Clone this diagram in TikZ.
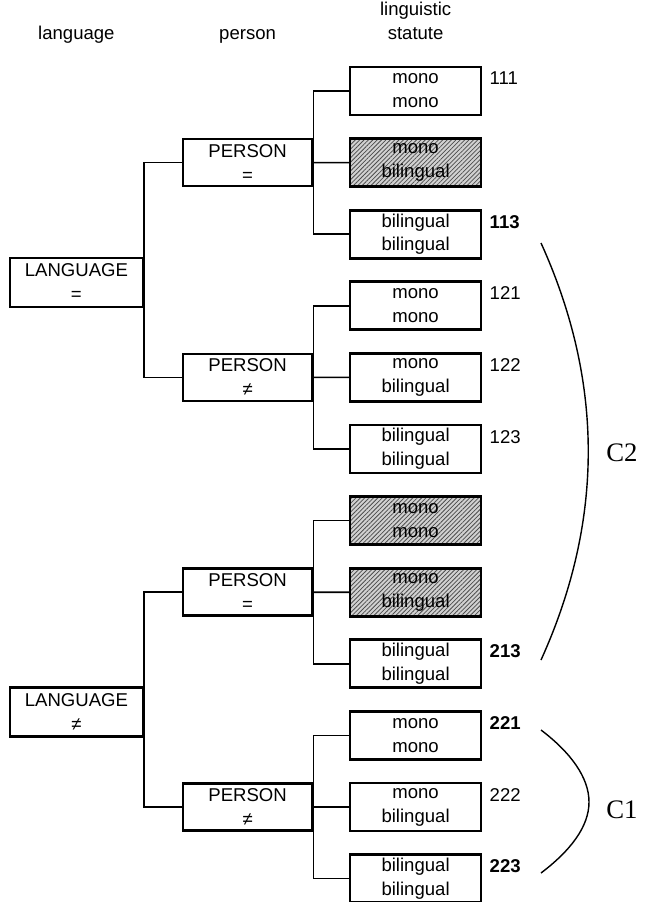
\documentclass[tikz,border=0pt]{standalone}
\usepackage{fontspec}
\setmainfont{Liberation Sans}
\newfontfamily\bracefont{Liberation Serif}
\usetikzlibrary{positioning,patterns.meta}

\begin{document}
\begin{tikzpicture}[font={\fontsize{13.2}{17}\selectfont},
  box/.style={draw, line width=1.9pt, inner sep=0pt, align=center},
  lang/.style={box, minimum width=3.325cm, minimum height=1.225cm},
  pers/.style={box, minimum width=3.225cm, minimum height=1.175cm},
  leaf/.style={box, minimum width=3.275cm, minimum height=1.2cm},
  plain/.style={},
  hatched/.style={preaction={fill=black!18}, pattern={Lines[angle=45,distance=2.2pt,line width=0.55pt]}, pattern color=black!70},
  conn/.style={line width=1.2pt},
  num/.style={anchor=base west, inner sep=0pt}]
\useasboundingbox (0,0) rectangle (16.175,-22.55);
\node[anchor=base] (hlang) at (1.91,-1) {language};
\node[anchor=base] (hpers) at (6.19,-1) {person};
\node[align=center] (hstat) at (10.39,-0.53) {linguistic\\statute};
\node[lang] (g1) at (1.91,-7.06) {LANGUAGE\\=};
\node[lang] (g2) at (1.91,-17.8) {LANGUAGE\\≠};
\foreach \n/\y/\s in {11/-4.065/=, 12/-9.435/≠, 21/-14.805/=, 22/-20.175/≠}
  \node[pers] (p\n) at (6.19,\y) {PERSON\\\s};
\foreach \n/\k/\st/\txt in {111/0/plain/mono\\mono, 112/1/hatched/mono\\bilingual, 113/2/plain/bilingual\\bilingual,
    121/3/plain/mono\\mono, 122/4/plain/mono\\bilingual, 123/5/plain/bilingual\\bilingual,
    211/6/hatched/mono\\mono, 212/7/hatched/mono\\bilingual, 213/8/plain/bilingual\\bilingual,
    221/9/plain/mono\\mono, 222/10/plain/mono\\bilingual, 223/11/plain/bilingual\\bilingual}
  \node[leaf, \st] (s\n) at (10.39,{-2.275-1.79*\k}) {\txt};
\foreach \n/\w in {111/, 113/\bfseries, 121/, 122/, 123/, 213/\bfseries, 221/\bfseries, 222/, 223/\bfseries}
  \node[num] (c\n) at ([xshift=0.175cm, yshift=0.15cm]s\n.east) {\w\n};
\foreach \n in {11,12,21,22} {
  \draw[conn] (s\n1.west) -| (p\n.east) |- (s\n3.west);
  \draw[conn] (p\n) -- (s\n2);
}
\foreach \n in {1,2}
  \draw[conn] (p\n1.west) -| (g\n.east) |- (p\n2.west);
\coordinate (c2top) at (13.525,-6.075);
\coordinate (c2bot) at (13.525,-16.5);
\draw[line width=1pt] (c2top) .. controls (15.1,-9.55) and (15.1,-13.025) .. (c2bot);
\node[font={\bracefont\fontsize{19}{19}\selectfont}] (C2) at (15.55,-11.325) {C2};
\coordinate (c1top) at (13.525,-18.25);
\coordinate (c1bot) at (13.525,-21.825);
\draw[line width=1pt] (c1top) .. controls (14.25,-18.8) and (14.725,-19.425) .. (14.725,-20.05)
  .. controls (14.725,-20.675) and (14.25,-21.275) .. (c1bot);
\node[font={\bracefont\fontsize{19}{19}\selectfont}] (C1) at (15.55,-20.25) {C1};
\end{tikzpicture}
\end{document}
